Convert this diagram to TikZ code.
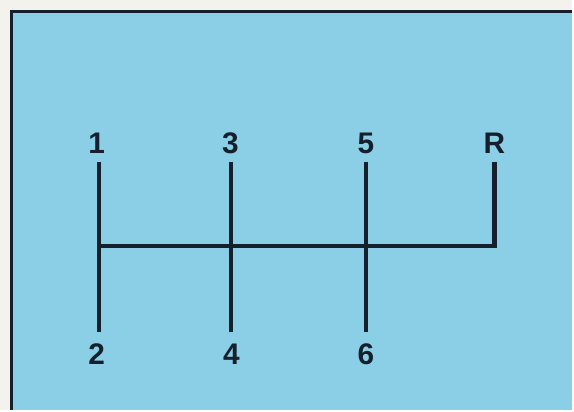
\documentclass[tikz,border=0pt]{standalone}
\usepackage{fontspec}
\setmainfont{Liberation Sans}
\usepackage{xcolor}
\usetikzlibrary{positioning}
\definecolor{paper}{RGB}{244,242,236}
\definecolor{panel}{RGB}{138,207,230}
\definecolor{ink}{RGB}{22,32,44}
\begin{document}
\begin{tikzpicture}[x=0.02cm,y=-0.02cm,
  gear/.style={font=\fontsize{17}{17}\selectfont\bfseries,text=ink,inner sep=0pt},
  rail/.style={line width=2.5pt,draw=ink},
  frame/.style={line width=2pt,draw=ink}]
\fill[paper] (0,0) rectangle (574,411);
\fill[panel] (11.5,11.5) rectangle (574,411);
\draw[frame] (11.5,411) -- (11.5,11.5) -- (574,11.5);
% gear positions
\node[gear] (g1) at (97,144) {1};
\node[gear] (g3) at (231,144) {3};
\node[gear] (g5) at (367,144) {5};
\node[gear] (gR) at (496,144) {R};
\node[gear] (g2) at (97,355) {2};
\node[gear] (g4) at (232,355) {4};
\node[gear] (g6) at (367,355) {6};
% line ends
\coordinate (t1) at (99,162); \coordinate (b1) at (99,333);
\coordinate (t3) at (232,162); \coordinate (b3) at (232,333);
\coordinate (t5) at (367,162); \coordinate (b5) at (367,333);
\coordinate (tR) at (496,162); \coordinate (cR) at (496,247);
\coordinate (c1) at (99,247);
\draw[rail] (t1) -- (b1);
\draw[rail] (t3) -- (b3);
\draw[rail] (t5) -- (b5);
\draw[rail] (tR) -- (cR) -- (c1);
\end{tikzpicture}
\end{document}
